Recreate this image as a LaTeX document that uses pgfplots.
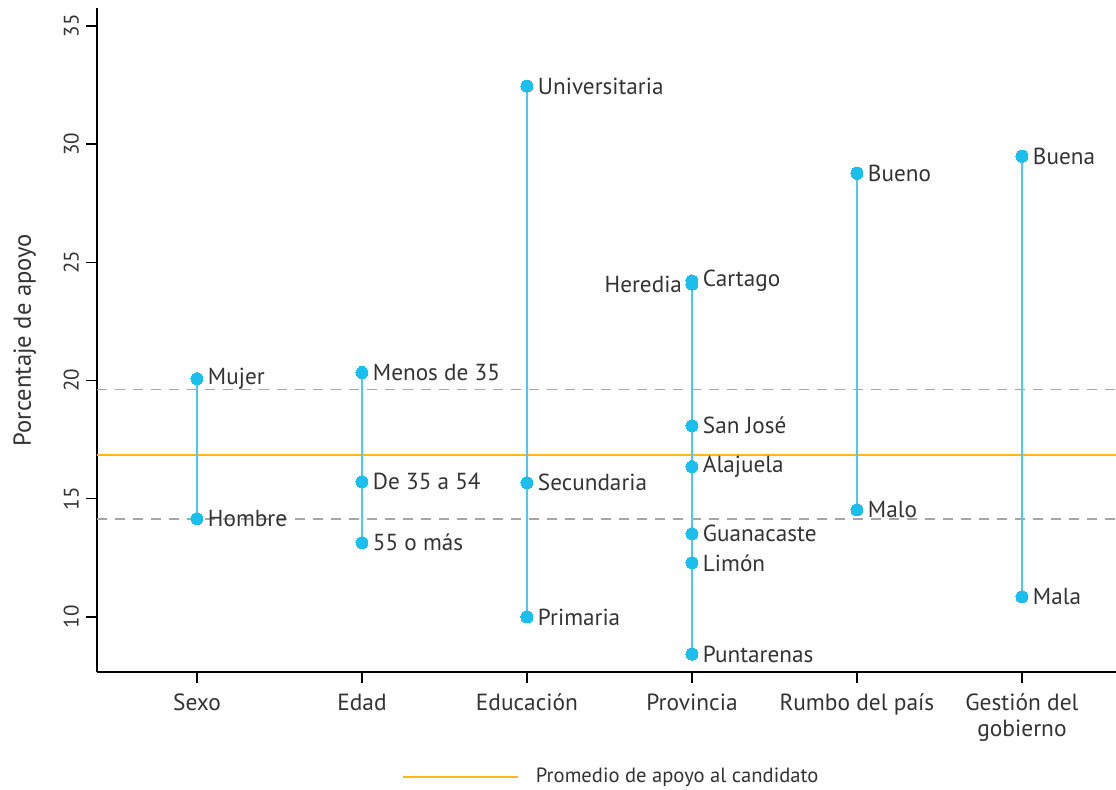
\documentclass[border=0pt]{standalone}
\usepackage{fontspec}
\setmainfont{PT Sans}
\usepackage{pgfplots}
\usepackage{pgfplotstable}
\pgfplotsset{compat=1.18}
\usetikzlibrary{calc}
\definecolor{dotblue}{HTML}{1BBFEE}
\definecolor{lineblue}{HTML}{4CC9F0}
\definecolor{avgorange}{HTML}{FDB913}
\definecolor{dashgray}{HTML}{A6A6A6}
\definecolor{txt}{HTML}{333333}

\pgfplotstableread[col sep=comma]{
x,y,label
0,20.08,Mujer
0,14.15,Hombre
1,20.34,Menos de 35
1,15.72,De 35 a 54
1,13.14,55 o más
2,32.46,Universitaria
2,15.68,Secundaria
2,10.00,Primaria
3,24.22,Cartago
3,18.09,San José
3,16.36,Alajuela
3,13.52,Guanacaste
3,12.29,Limón
3,8.43,Puntarenas
4,28.77,Bueno
4,14.53,Malo
5,29.49,Buena
5,10.85,Mala
}\ptsright

\pgfplotstableread[col sep=comma]{
x,y,label
3,24.08,Heredia
}\ptsleft

\begin{document}
\begin{tikzpicture}
\begin{axis}[
  scale only axis,
  width=509.5pt, height=332pt,
  xmin=-0.606, xmax=5.57,
  ymin=7.67, ymax=35.76,
  axis x line*=bottom, axis y line*=left,
  axis line style={line width=0.7pt, black},
  xtick={0,1,2,3,4,5},
  xticklabels={Sexo, Edad, Educación, Provincia, Rumbo del país, {Gestión del\\gobierno}},
  xticklabel style={align=center, text=txt, font=\fontsize{11.7}{13}\selectfont, yshift=-2pt},
  ytick={10,15,20,25,30,35},
  yticklabel style={rotate=90, anchor=south, text=txt, font=\fontsize{10.5}{12}\selectfont},
  /pgf/number format/assume math mode=true,
  tick align=outside,
  major tick length=5.5pt,
  tick style={line width=0.7pt, black},
  ylabel={Porcentaje de apoyo},
  ylabel style={text=txt, font=\fontsize{12.3}{14}\selectfont},
  ylabel shift=7pt,
  clip=false,
  legend style={at={(0.508,-0.158)}, anchor=center, draw=none, fill=none,
    font=\fontsize{10.3}{12}\selectfont, text=txt,
    nodes={inner sep=4.5pt},
    /tikz/every odd column/.append style={column sep=4pt}},
  legend cell align=left,
  legend image code/.code={\draw[#1] (0pt,0pt) -- (57.5pt,0pt);},
]
% reference bands
\addplot[dashgray, line width=0.7pt, dash pattern=on 5pt off 4pt, forget plot] coordinates {(-0.606,19.62) (5.57,19.62)};
\addplot[dashgray, line width=0.7pt, dash pattern=on 5pt off 4pt, forget plot] coordinates {(-0.606,14.15) (5.57,14.15)};
% average
\addplot[avgorange, line width=1pt] coordinates {(-0.606,16.86) (5.57,16.86)};
\addlegendentry{Promedio de apoyo al candidato}
% ranges
\addplot[lineblue, line width=0.75pt, forget plot] coordinates {(0,14.15) (0,20.08)};
\addplot[lineblue, line width=0.75pt, forget plot] coordinates {(1,13.14) (1,20.34)};
\addplot[lineblue, line width=0.75pt, forget plot] coordinates {(2,10.00) (2,32.46)};
\addplot[lineblue, line width=0.75pt, forget plot] coordinates {(3,8.43) (3,24.22)};
\addplot[lineblue, line width=0.75pt, forget plot] coordinates {(4,14.53) (4,28.77)};
\addplot[lineblue, line width=0.75pt, forget plot] coordinates {(5,10.85) (5,29.49)};
% points
\addplot[dotblue, only marks, mark=*, mark size=3pt, mark options={fill=dotblue, draw=dotblue, line width=0pt}, forget plot,
  nodes near coords, point meta=explicit symbolic,
  nodes near coords style={anchor=west, xshift=4.5pt, text=txt, font=\fontsize{11.6}{13}\selectfont, inner sep=1pt}]
  table[x=x, y=y, meta=label] {\ptsright};
\addplot[dotblue, only marks, mark=*, mark size=3pt, mark options={fill=dotblue, draw=dotblue, line width=0pt}, forget plot,
  nodes near coords, point meta=explicit symbolic,
  nodes near coords style={anchor=east, xshift=-4pt, text=txt, font=\fontsize{11.6}{13}\selectfont, inner sep=1pt}]
  table[x=x, y=y, meta=label] {\ptsleft};
\end{axis}
\pgfresetboundingbox
\path[use as bounding box] ($(current axis.south west)+(-48.5pt,-58.5pt)$) rectangle ($(current axis.north east)+(0pt,4pt)$);
\end{tikzpicture}
\end{document}
